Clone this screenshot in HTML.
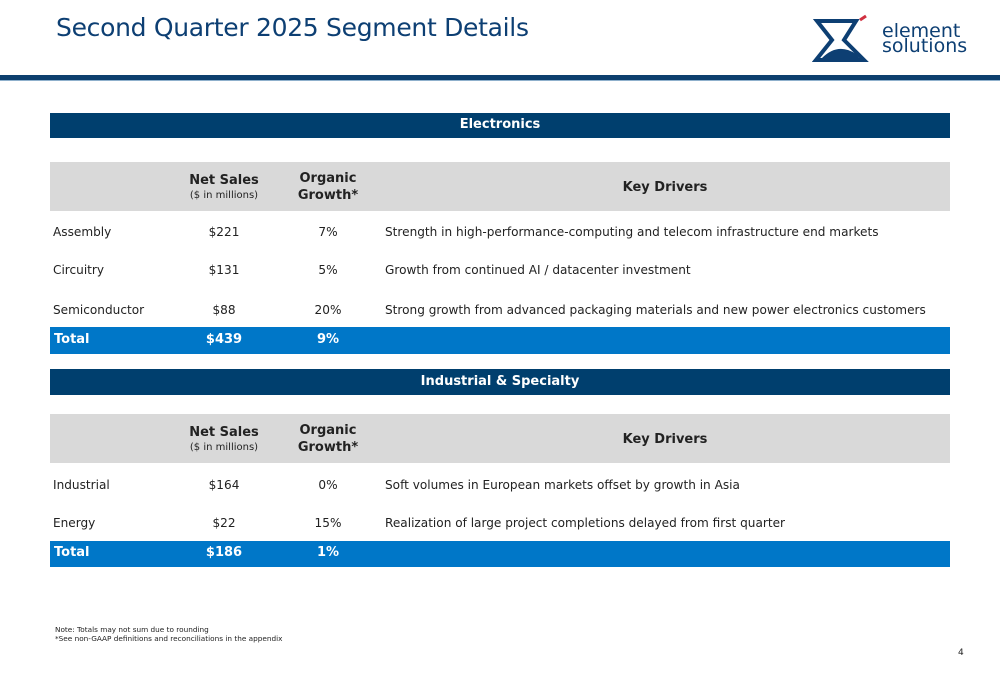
<!DOCTYPE html>
<html><head><meta charset="utf-8"><style>
body{margin:0;width:1000px;height:685px;position:relative;background:#fff;font-family:"DejaVu Sans","Liberation Sans",sans-serif;color:#222;overflow:hidden}
.a{position:absolute;white-space:nowrap}
.bar{position:absolute;left:50px;width:900px;background:#003f6e;color:#fff;font-weight:bold;font-size:13px;text-align:center}
.gray{position:absolute;left:50px;width:900px;background:#d9d9d9}
.tot{position:absolute;left:50px;width:900px;background:#0077c8}
.c{position:absolute;transform:translateX(-50%);text-align:center;white-space:nowrap}
.r{font-size:12.1px}
.h{font-weight:bold;font-size:13px}
.t{color:#fff;font-weight:bold;font-size:13px}
</style></head><body>
<div class="a" style="left:56px;top:13px;font-size:25px;color:#0d3f73;letter-spacing:-0.3px">Second Quarter 2025 Segment Details</div>
<svg class="a" style="left:812px;top:14px" width="170" height="50" viewBox="0 0 170 50">
<path d="M5 7 H44 L32 26 L52 46 H4 L20 26 Z" fill="none" stroke="#0d3f73" stroke-width="4"/>
<path d="M10 44 Q26 28 44 40 L48 45 H6 Z" fill="#0d3f73"/>
<path d="M48 6 L54 2" stroke="#d03040" stroke-width="3"/>
<text x="70" y="23" font-size="19" fill="#0d3f73" font-family="DejaVu Sans">element</text>
<text x="70" y="38" font-size="19" fill="#0d3f73" font-family="DejaVu Sans">solutions</text>
</svg>
<div class="a" style="left:0;top:75px;width:1000px;height:5px;background:#0d3f6e"></div>
<div class="a" style="left:0;top:80px;width:1000px;height:1px;background:#8fb0cc"></div>

<div class="bar" style="top:113px;height:25px;line-height:24px">Electronics</div>
<div class="gray" style="top:162px;height:49px"></div>
<div class="c h" style="left:224px;top:174px;line-height:14px">Net Sales<br><span style="font-weight:normal;font-size:10px">($ in millions)</span></div>
<div class="c h" style="left:328px;top:170px;line-height:17px">Organic<br>Growth*</div>
<div class="c h" style="left:665px;top:180px">Key Drivers</div>

<div class="a r" style="left:53px;top:225px">Assembly</div>
<div class="c r" style="left:224px;top:225px">$221</div>
<div class="c r" style="left:328px;top:225px">7%</div>
<div class="a r" style="left:385px;top:225px">Strength in high-performance-computing and telecom infrastructure end markets</div>

<div class="a r" style="left:53px;top:263px">Circuitry</div>
<div class="c r" style="left:224px;top:263px">$131</div>
<div class="c r" style="left:328px;top:263px">5%</div>
<div class="a r" style="left:385px;top:263px">Growth from continued AI / datacenter investment</div>

<div class="a r" style="left:53px;top:303px">Semiconductor</div>
<div class="c r" style="left:224px;top:303px">$88</div>
<div class="c r" style="left:328px;top:303px">20%</div>
<div class="a r" style="left:385px;top:303px">Strong growth from advanced packaging materials and new power electronics customers</div>

<div class="tot" style="top:327px;height:27px"></div>
<div class="a t" style="left:54px;top:332px">Total</div>
<div class="c t" style="left:224px;top:332px">$439</div>
<div class="c t" style="left:328px;top:332px">9%</div>

<div class="bar" style="top:369px;height:26px;line-height:25px">Industrial &amp; Specialty</div>
<div class="gray" style="top:414px;height:49px"></div>
<div class="c h" style="left:224px;top:426px;line-height:14px">Net Sales<br><span style="font-weight:normal;font-size:10px">($ in millions)</span></div>
<div class="c h" style="left:328px;top:422px;line-height:17px">Organic<br>Growth*</div>
<div class="c h" style="left:665px;top:432px">Key Drivers</div>

<div class="a r" style="left:53px;top:478px">Industrial</div>
<div class="c r" style="left:224px;top:478px">$164</div>
<div class="c r" style="left:328px;top:478px">0%</div>
<div class="a r" style="left:385px;top:478px">Soft volumes in European markets offset by growth in Asia</div>

<div class="a r" style="left:53px;top:516px">Energy</div>
<div class="c r" style="left:224px;top:516px">$22</div>
<div class="c r" style="left:328px;top:516px">15%</div>
<div class="a r" style="left:385px;top:516px">Realization of large project completions delayed from first quarter</div>

<div class="tot" style="top:541px;height:26px"></div>
<div class="a t" style="left:54px;top:545px">Total</div>
<div class="c t" style="left:224px;top:545px">$186</div>
<div class="c t" style="left:328px;top:545px">1%</div>

<div class="a" style="left:55px;top:625px;font-size:7.3px;line-height:9px">Note: Totals may not sum due to rounding<br>*See non-GAAP definitions and reconciliations in the appendix</div>
<div class="a" style="left:958px;top:648px;font-size:9px">4</div>
</body></html>
